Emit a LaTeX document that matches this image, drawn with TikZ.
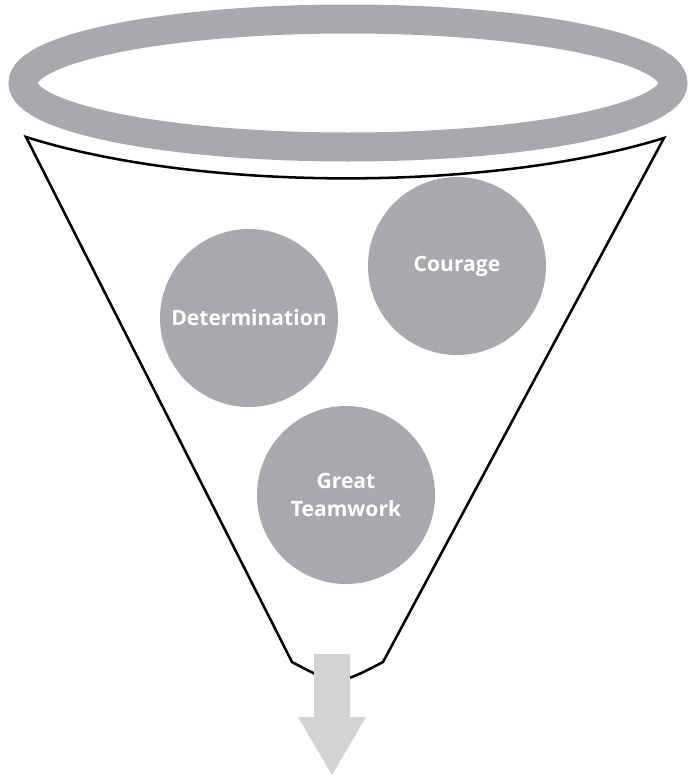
\documentclass[tikz,border=0pt]{standalone}
\usepackage{fontspec}
\newfontfamily\bubblefont{Open Sans}
\definecolor{ringgray}{HTML}{A7A9AC}
\definecolor{arrowgray}{HTML}{D1D3D4}
\begin{document}
\begin{tikzpicture}[x=0.75pt,y=-0.75pt,
  bubble/.style={circle,fill=ringgray,minimum size=133.5pt,inner sep=0pt,
    text=white,font=\bubblefont\bfseries\fontsize{15.8}{21}\selectfont,align=center}]

\useasboundingbox (0,0) rectangle (690,778);

%Funnel

\coordinate (tl) at (26,137);
\coordinate (tr) at (664,138);
\coordinate (bl) at (292,662);
\coordinate (br) at (383,662);

\draw[line width=1.9pt,line join=miter] (tl) .. controls (200,192) and (490,192) .. (tr)
  -- (br) .. controls (337,686) .. (bl) -- cycle;

%Rim

\draw[ringgray,line width=21.75pt] (348,83) ellipse [x radius=325, y radius=64];

%Bubbles

\node[bubble] (cour) at (457,266) {Courage};
\node[bubble] (det) at (249,318) {Determination};
\node[bubble] (team) at (346,495) {Great\\Teamwork};

%Arrow

\fill[arrowgray] (314,654) -- (350,654) -- (350,717) -- (366,717)
  -- (332,775) -- (298,717) -- (314,717) -- cycle;

\end{tikzpicture}
\end{document}
